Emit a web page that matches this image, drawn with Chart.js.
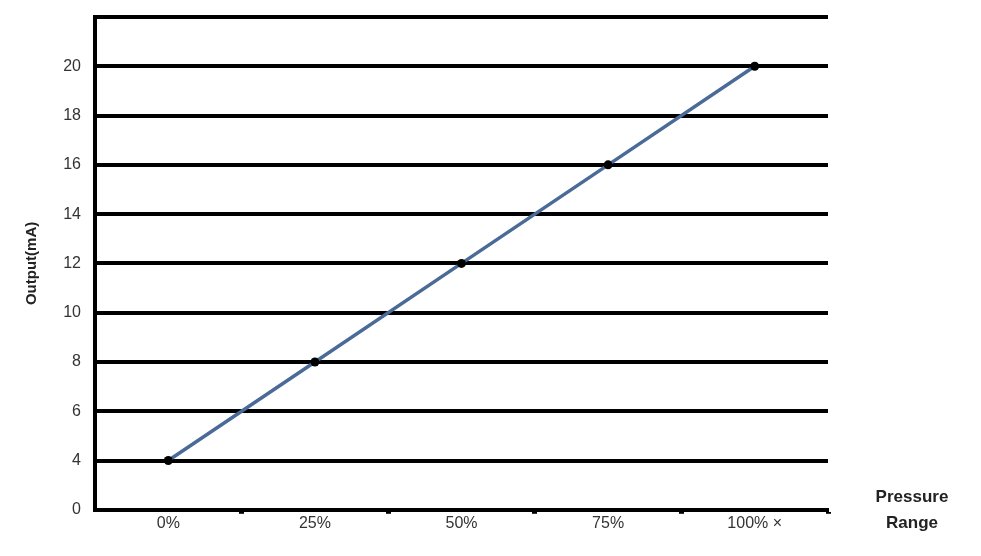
<!DOCTYPE html>
<html>
<head>
<meta charset="utf-8">
<script src="https://cdn.jsdelivr.net/npm/chart.js@4"></script>
<style>
  html, body { margin: 0; padding: 0; background: #fff; }
  #wrap { width: 981px; height: 556px; }
</style>
</head>
<body>
<div id="wrap"><canvas id="c" width="981" height="556"></canvas></div>
<script>
const categories = ['0%', '25%', '50%', '75%', '100% ×'];
const outputMA = [4, 8, 12, 16, 20];
const yTickLabels = ['0', '4', '6', '8', '10', '12', '14', '16', '18', '20', ''];
const yAxisTitle = 'Output(mA)';
const xAxisTitle = ['Pressure', 'Range'];

// The value axis is drawn as evenly spaced tick positions (0 then 4..20 by 2)
const positions = outputMA.map(v => yTickLabels.indexOf(String(v)));

const pressureTitle = {
  id: 'pressureTitle',
  afterDraw(chart) {
    const ctx = chart.ctx;
    const xs = chart.scales.x;
    ctx.save();
    ctx.font = 'bold 17px "Liberation Sans", Arial, sans-serif';
    ctx.fillStyle = '#222';
    ctx.textAlign = 'center';
    ctx.textBaseline = 'middle';
    const cx = xs.right + 84;
    ctx.fillText(xAxisTitle[0], cx, xs.top - 12);
    ctx.fillText(xAxisTitle[1], cx, xs.top + 14);
    ctx.restore();
  }
};

new Chart(document.getElementById('c'), {
  type: 'line',
  data: {
    labels: categories,
    datasets: [{
      data: positions,
      borderColor: '#4a6a98',
      borderWidth: 3.5,
      pointRadius: 4.5,
      pointBackgroundColor: '#000',
      pointBorderColor: '#000',
      pointBorderWidth: 0,
      tension: 0,
      clip: false
    }]
  },
  options: {
    responsive: false,
    animation: false,
    layout: { padding: { left: 23, right: 153, top: 17, bottom: 23 } },
    plugins: { legend: { display: false }, tooltip: { enabled: false } },
    scales: {
      x: {
        type: 'category',
        offset: true,
        grid: {
          offset: true,
          drawOnChartArea: false,
          drawTicks: true,
          tickLength: 4,
          tickWidth: 5,
          tickColor: c => (c.index === 0 ? 'rgba(0,0,0,0)' : '#000')
        },
        border: { color: '#000', width: 4 },
        ticks: {
          color: '#333',
          font: { family: '"Liberation Sans", Arial, sans-serif', size: 16 },
          padding: 0,
          maxRotation: 0,
          autoSkip: false
        }
      },
      y: {
        type: 'linear',
        min: 0,
        max: yTickLabels.length - 1,
        afterFit(s) { s.width = 72; s.paddingTop = 0; s.paddingBottom = 0; },
        grid: { color: '#000', lineWidth: 4, drawTicks: false },
        border: { color: '#000', width: 4 },
        ticks: {
          stepSize: 1,
          color: '#333',
          padding: 14,
          font: { family: '"Liberation Sans", Arial, sans-serif', size: 16 },
          callback: v => yTickLabels[v] ?? ''
        },
        title: {
          display: true,
          text: yAxisTitle,
          color: '#222',
          font: { family: '"Liberation Sans", Arial, sans-serif', size: 15, weight: 'bold' },
          padding: { top: 0, bottom: 0 }
        }
      }
    }
  },
  plugins: [pressureTitle]
});
</script>
</body>
</html>
